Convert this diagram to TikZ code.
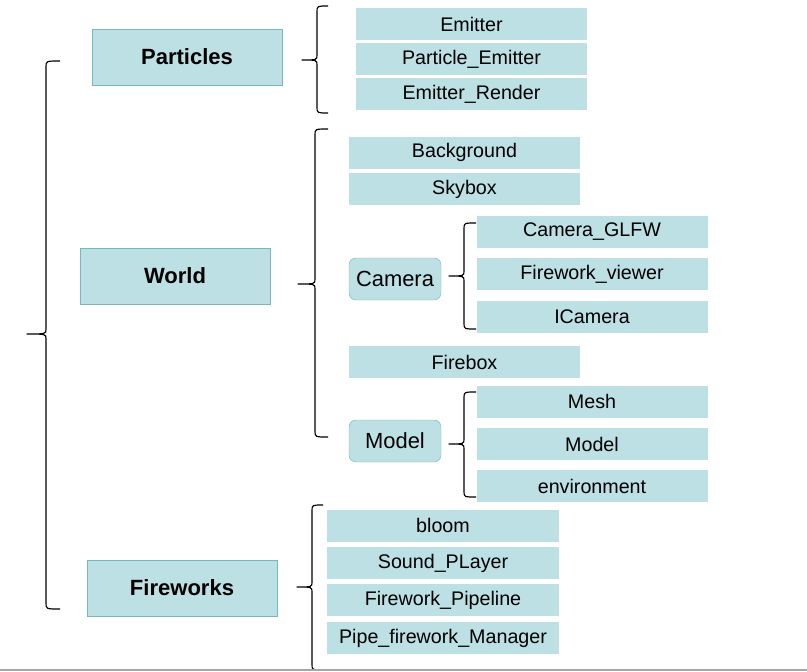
\documentclass[tikz,border=0pt]{standalone}
\usepackage{fontspec}
\setmainfont{Liberation Sans}
\usetikzlibrary{positioning}

\definecolor{boxfill}{RGB}{188,224,227}
\definecolor{boxline}{RGB}{118,184,190}

% #1 x of the spine, #2 top, #3 middle, #4 bottom, #5 tip x, #6 end x
\newcommand{\grpbrace}[6]{%
  \draw[brace line] (#6,#2) .. controls (#1,#2) .. (#1,#2+6) -- (#1,#3-5)
    .. controls (#1,#3) .. (#5,#3) .. controls (#1,#3) .. (#1,#3+5)
    -- (#1,#4-6) .. controls (#1,#4) .. (#6,#4);}

\begin{document}
\begin{tikzpicture}[x=0.03cm, y=-0.03cm,
                    title node/.style={rectangle, draw=boxline, fill=boxfill, minimum width=5.7cm, minimum height=1.68cm, font=\fontsize{18.8}{22}\selectfont\bfseries},
                    leaf node/.style={rectangle, fill=boxfill, minimum width=6.93cm, minimum height=0.96cm, inner sep=0pt, font=\fontsize{16.8}{20}\selectfont},
                    sub node/.style={rectangle, rounded corners=6pt, draw=boxline, fill=boxfill, minimum width=2.76cm, minimum height=1.26cm, inner sep=0pt, font=\fontsize{18.7}{22}\selectfont},
                    brace line/.style={draw=black, line width=1pt, line join=round}]

  \useasboundingbox (0,0) rectangle (807,672);

  % main groups
  \node[title node] (particles) at (187,57) {Particles};
  \node[title node] (world) at (175,276) {World};
  \node[title node] (fireworks) at (182,588) {Fireworks};

  % particles
  \node[leaf node] (emitter) at (471.5,24) {Emitter};
  \node[leaf node] (pemitter) [below=0.08cm of emitter] {Particle\_Emitter};
  \node[leaf node] (erender) [below=0.08cm of pemitter] {Emitter\_Render};

  % world
  \node[leaf node] (background) at (464.5,152.5) {Background};
  \node[leaf node] (skybox) [below=0.12cm of background] {Skybox};
  \node[leaf node] (firebox) at (464.5,362) {Firebox};

  \node[sub node] (camera) at (395,279) {Camera};
  \node[leaf node] (glfw) at (592,232) {Camera\_GLFW};
  \node[leaf node] (viewer) [below=0.3cm of glfw] {Firework\_viewer};
  \node[leaf node] (icamera) [below=0.3cm of viewer] {ICamera};

  \node[sub node] (model) at (395,441) {Model};
  \node[leaf node] (mesh) at (592,401.5) {Mesh};
  \node[leaf node] (mmodel) [below=0.3cm of mesh] {Model};
  \node[leaf node] (environment) [below=0.3cm of mmodel] {environment};

  % fireworks
  \node[leaf node] (bloom) at (443,525.5) {bloom};
  \node[leaf node] (sound) [below=0.15cm of bloom] {Sound\_PLayer};
  \node[leaf node] (pipeline) [below=0.15cm of sound] {Firework\_Pipeline};
  \node[leaf node] (manager) [below=0.15cm of pipeline] {Pipe\_firework\_Manager};

  % braces
  \grpbrace{46}{61}{334}{609}{27}{60}
  \grpbrace{317}{6}{60}{113}{302}{328}
  \grpbrace{315}{129}{284}{437}{298}{328}
  \grpbrace{464}{223}{276}{329}{449}{476}
  \grpbrace{464}{392}{444}{497}{449}{476}
  \grpbrace{312}{505}{587}{670}{297}{323}

  \draw[gray!70, line width=1pt] (0,670) -- (807,670);

\end{tikzpicture}
\end{document}
